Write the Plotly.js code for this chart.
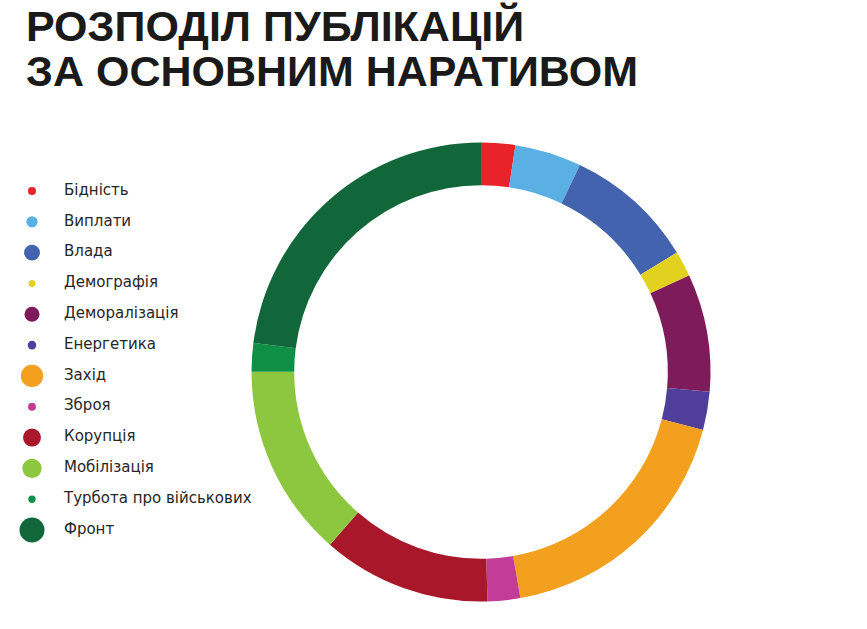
<!DOCTYPE html>
<html>
<head>
<meta charset="utf-8">
<script src="https://cdn.plot.ly/plotly-3.0.1.min.js"></script>
<style>
  html, body { margin: 0; padding: 0; background: #fff; }
  #chart { width: 867px; height: 629px; }
</style>
</head>
<body>
<div id="chart"></div>
<script>
const categories = ['Бідність', 'Виплати', 'Влада', 'Демографія', 'Деморалізація', 'Енергетика',
    'Захід', 'Зброя', 'Корупція', 'Мобілізація', 'Турбота про військових', 'Фронт']
const shares = [2.4, 4.7, 9.2, 1.8, 8.3, 2.7, 18.2, 2.3, 11.9, 13.6, 2.0, 23.0]
const colors = ['#e8232a', '#5aafe3', '#4363ae', '#e2d21f', '#7d1b5b', '#4f3f9a',
    '#f3a01f', '#c23c98', '#a8182a', '#8dc63f', '#0e9146', '#11673a']
const titleLines = ['РОЗПОДІЛ ПУБЛІКАЦІЙ', 'ЗА ОСНОВНИМ НАРАТИВОМ']

const W = 867, H = 629
const rows = categories.map((c, i) => i)

const donut = {
    type: 'pie',
    labels: categories,
    values: shares,
    sort: false,
    direction: 'clockwise',
    rotation: 0,
    hole: 0.814,
    textinfo: 'none',
    hoverinfo: 'label+percent',
    marker: { colors: colors, line: { width: 0 } },
    domain: { x: [0.2901, 0.8195], y: [0.0437, 0.7734] },
    showlegend: false
}

// legend drawn as a bubble column: marker area follows the share
const legendDots = {
    type: 'scatter',
    mode: 'markers',
    x: rows.map(() => 0),
    y: rows,
    marker: {
        color: colors,
        opacity: 1,
        size: shares,
        sizemode: 'area',
        sizeref: 2 * Math.max(...shares) / (25 * 25),
        line: { width: 0 }
    },
    hoverinfo: 'skip',
    showlegend: false,
    cliponaxis: false
}
const legendText = {
    type: 'scatter',
    mode: 'text',
    x: rows.map(() => 1),
    y: rows,
    text: categories,
    textposition: 'middle right',
    textfont: { family: '"DejaVu Sans", sans-serif', size: 15, color: '#262626' },
    hoverinfo: 'skip',
    showlegend: false,
    cliponaxis: false
}

const layout = {
    width: W,
    height: H,
    margin: { l: 0, r: 0, t: 0, b: 0 },
    paper_bgcolor: '#fff',
    plot_bgcolor: 'rgba(0,0,0,0)',
    xaxis: { domain: [0, 0.3], range: [-32 / 32, (0.3 * W - 32) / 32], visible: false, fixedrange: true },
    yaxis: { domain: [0, 1], range: [(H - 191) / 30.82, -191 / 30.82], visible: false, fixedrange: true },
    annotations: titleLines.map((t, i) => ({
        text: '<b>' + t + '</b>',
        xref: 'paper', yref: 'paper',
        x: 24 / W, y: 1 - (26 + i * 45) / H,
        xanchor: 'left', yanchor: 'middle',
        showarrow: false,
        font: { family: '"Liberation Sans", Arial, sans-serif', size: 43, color: '#1a1a1a' }
    }))
}

Plotly.newPlot('chart', [donut, legendDots, legendText], layout, { displayModeBar: false, staticPlot: true })
</script>
</body>
</html>
